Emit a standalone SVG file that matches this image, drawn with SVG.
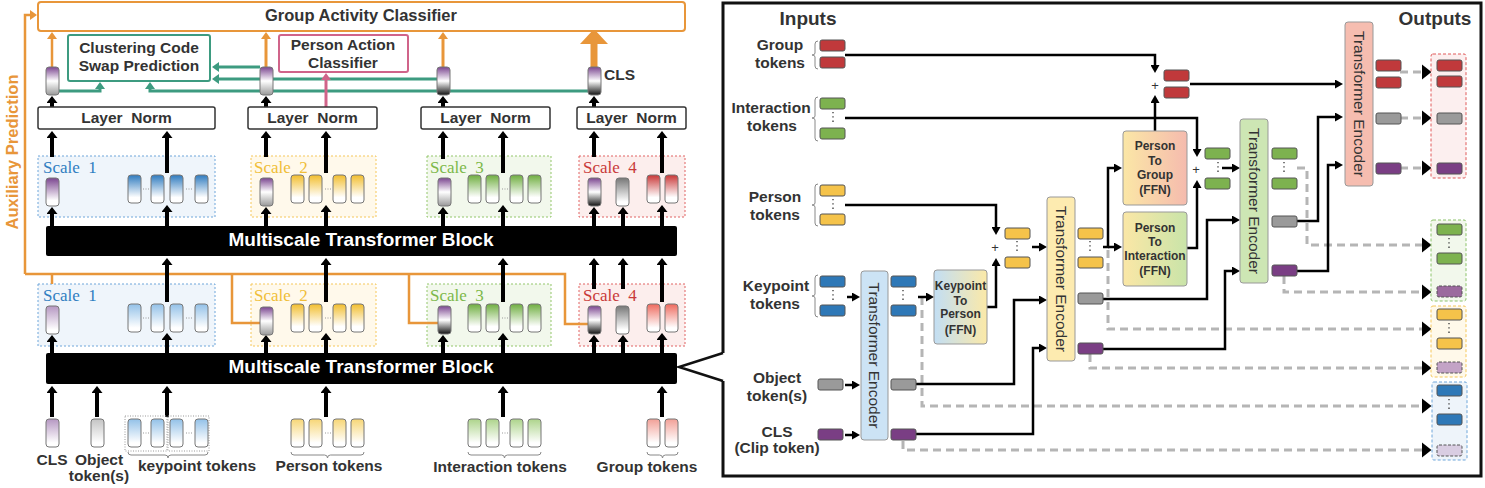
<svg xmlns="http://www.w3.org/2000/svg" width="1485" height="488" viewBox="0 0 1485 488">
<style>
.t{font-family:"Liberation Sans",Arial,sans-serif;fill:#333;font-weight:bold}
.c{text-anchor:middle}
.l{font-size:15.5px}
.sc{font-family:"Liberation Serif",serif;font-size:17px}
.tok{stroke:#777;stroke-width:1}
.st{stroke:#555;stroke-width:1}
.ka{stroke:#000;stroke-width:4;fill:none;marker-end:url(#ak)}
.ra{stroke:#000;stroke-width:2.5;fill:none;marker-end:url(#ar)}
.dl{stroke:#B5B5B5;stroke-width:3;stroke-dasharray:8 5;fill:none;marker-end:url(#ad)}
.oa{stroke:#E8963A;stroke-width:2.5;fill:none}
.ga{stroke:#3D9B80;stroke-width:3;fill:none;marker-end:url(#ag)}
.te{stroke:#999;stroke-width:1}
.tet{font-family:"Liberation Sans",Arial,sans-serif;font-size:15.5px;fill:#333;text-anchor:middle;dominant-baseline:central}
.ff{font-family:"Liberation Sans",Arial,sans-serif;font-size:12px;font-weight:bold;fill:#333;text-anchor:middle}
.vd{stroke:#444;stroke-width:1.4;stroke-dasharray:1.3 3}
.hd{stroke:#999;stroke-width:1;stroke-dasharray:1 1.5}
.br{stroke:#888;stroke-width:1;fill:none}
.pl{font-family:"Liberation Sans",Arial,sans-serif;font-size:13px;fill:#333;text-anchor:middle}
</style>
<defs>
<marker id="ak" viewBox="0 0 7 11" refX="1" refY="5.5" markerWidth="7" markerHeight="11" markerUnits="userSpaceOnUse" orient="auto"><path d="M0,0 L7,5.5 L0,11 z" fill="#000"/></marker>
<marker id="ar" viewBox="0 0 8 9" refX="1" refY="4.5" markerWidth="8" markerHeight="9" markerUnits="userSpaceOnUse" orient="auto"><path d="M0,0 L8,4.5 L0,9 z" fill="#000"/></marker>
<marker id="ad" viewBox="0 0 10 16" refX="0.5" refY="8" markerWidth="10" markerHeight="16" markerUnits="userSpaceOnUse" orient="auto"><path d="M0,0 L10,8 L0,16 z" fill="#000"/></marker>
<marker id="ao" viewBox="0 0 7 10" refX="1" refY="5" markerWidth="7" markerHeight="10" markerUnits="userSpaceOnUse" orient="auto"><path d="M0,0 L7,5 L0,10 z" fill="#E8963A"/></marker>
<marker id="ag" viewBox="0 0 7 10" refX="1" refY="5" markerWidth="7" markerHeight="10" markerUnits="userSpaceOnUse" orient="auto"><path d="M0,0 L7,5 L0,10 z" fill="#3D9B80"/></marker>
<marker id="ap" viewBox="0 0 7 10" refX="1" refY="5" markerWidth="7" markerHeight="10" markerUnits="userSpaceOnUse" orient="auto"><path d="M0,0 L7,5 L0,10 z" fill="#D0648A"/></marker>
<linearGradient id="gB" x1="0" y1="0" x2="0" y2="1"><stop offset="0" stop-color="#2F7BBF"/><stop offset="0.8" stop-color="#fff"/></linearGradient>
<linearGradient id="gY" x1="0" y1="0" x2="0" y2="1"><stop offset="0" stop-color="#F2BE2E"/><stop offset="0.8" stop-color="#fff"/></linearGradient>
<linearGradient id="gG" x1="0" y1="0" x2="0" y2="1"><stop offset="0" stop-color="#6FAE40"/><stop offset="0.8" stop-color="#fff"/></linearGradient>
<linearGradient id="gR" x1="0" y1="0" x2="0" y2="1"><stop offset="0" stop-color="#C93838"/><stop offset="0.8" stop-color="#fff"/></linearGradient>
<linearGradient id="gRs" x1="0" y1="0" x2="0" y2="1"><stop offset="0" stop-color="#EE6A5E"/><stop offset="0.85" stop-color="#fff"/></linearGradient>
<linearGradient id="gP" x1="0" y1="0" x2="0" y2="1"><stop offset="0" stop-color="#7B4690"/><stop offset="0.8" stop-color="#fff"/></linearGradient>
<linearGradient id="gPg" x1="0" y1="0" x2="0" y2="1"><stop offset="0" stop-color="#7B4690"/><stop offset="0.5" stop-color="#fff"/><stop offset="1" stop-color="#999"/></linearGradient>
<linearGradient id="gPk" x1="0" y1="0" x2="0" y2="1"><stop offset="0" stop-color="#7B4690"/><stop offset="0.5" stop-color="#fff"/><stop offset="1" stop-color="#111"/></linearGradient>
<linearGradient id="gGr" x1="0" y1="0" x2="0" y2="1"><stop offset="0" stop-color="#777"/><stop offset="0.85" stop-color="#fff"/></linearGradient>
<linearGradient id="gBl" x1="0" y1="0" x2="0" y2="1"><stop offset="0" stop-color="#93C1E8"/><stop offset="0.85" stop-color="#fff"/></linearGradient>
<linearGradient id="gYl" x1="0" y1="0" x2="0" y2="1"><stop offset="0" stop-color="#F7D676"/><stop offset="0.85" stop-color="#fff"/></linearGradient>
<linearGradient id="gGl" x1="0" y1="0" x2="0" y2="1"><stop offset="0" stop-color="#ADD48B"/><stop offset="0.85" stop-color="#fff"/></linearGradient>
<linearGradient id="gRl" x1="0" y1="0" x2="0" y2="1"><stop offset="0" stop-color="#F2A097"/><stop offset="0.85" stop-color="#fff"/></linearGradient>
<linearGradient id="gPl" x1="0" y1="0" x2="0" y2="1"><stop offset="0" stop-color="#B597C2"/><stop offset="0.85" stop-color="#fff"/></linearGradient>
<linearGradient id="gGrl" x1="0" y1="0" x2="0" y2="1"><stop offset="0" stop-color="#C4C4C4"/><stop offset="0.85" stop-color="#fff"/></linearGradient>
<linearGradient id="hBY" x1="0" y1="0" x2="1" y2="0"><stop offset="0" stop-color="#C2DEF4"/><stop offset="1" stop-color="#FBE9A8"/></linearGradient>
<linearGradient id="hYR" x1="0" y1="0" x2="1" y2="0"><stop offset="0" stop-color="#FBE7A6"/><stop offset="1" stop-color="#F5BBAE"/></linearGradient>
<linearGradient id="hYG" x1="0" y1="0" x2="1" y2="0"><stop offset="0" stop-color="#FBE7A6"/><stop offset="1" stop-color="#C9E4A9"/></linearGradient>
</defs>
<rect width="1485" height="488" fill="#fff"/>

<!-- scale boxes (backgrounds) -->
<g id="scale-boxes">
<rect x="38" y="156" width="177" height="61" fill="#EFF5FB" stroke="#6EA6DA" stroke-dasharray="2 2"/>
<rect x="251" y="156" width="125" height="61" fill="#FFF9EB" stroke="#F5C75A" stroke-dasharray="2 2"/>
<rect x="427" y="156" width="124" height="61" fill="#F2F8EC" stroke="#93C66A" stroke-dasharray="2 2"/>
<rect x="579" y="156" width="106" height="61" fill="#FCEEED" stroke="#E06262" stroke-dasharray="2 2"/>
<rect x="38" y="284" width="177" height="62" fill="#EFF5FB" stroke="#6EA6DA" stroke-dasharray="2 2"/>
<rect x="251" y="284" width="125" height="62" fill="#FFF9EB" stroke="#F5C75A" stroke-dasharray="2 2"/>
<rect x="427" y="284" width="124" height="62" fill="#F2F8EC" stroke="#93C66A" stroke-dasharray="2 2"/>
<rect x="579" y="284" width="106" height="62" fill="#FCEEED" stroke="#E06262" stroke-dasharray="2 2"/>
<text x="43" y="173" class="sc" fill="#2F7EC1">Scale&#160; 1</text>
<text x="254" y="173" class="sc" fill="#F0BE38">Scale&#160; 2</text>
<text x="430" y="173" class="sc" fill="#7DB84A">Scale&#160; 3</text>
<text x="583" y="173" class="sc" fill="#C93A3A">Scale&#160; 4</text>
<text x="43" y="301" class="sc" fill="#2F7EC1">Scale&#160; 1</text>
<text x="254" y="301" class="sc" fill="#F0BE38">Scale&#160; 2</text>
<text x="430" y="301" class="sc" fill="#7DB84A">Scale&#160; 3</text>
<text x="583" y="301" class="sc" fill="#C93A3A">Scale&#160; 4</text>
</g>

<g id="connectors">
<!-- orange auxiliary -->
<path class="oa" d="M25,274 V15 H31" marker-end="url(#ao)"/>
<path class="oa" d="M25,274 H565 V324 H588"/>
<path class="oa" d="M52,274 V284"/>
<path class="oa" d="M232,274 V323 H260"/>
<path class="oa" d="M409,274 V323 H438"/>
<path class="oa" d="M52,67 V38" marker-end="url(#ao)" stroke="#E8963A" stroke-width="3" fill="none"/>
<path d="M266,67 V38" marker-end="url(#ao)" stroke="#E8963A" stroke-width="3" fill="none"/>
<path d="M443,67 V38" marker-end="url(#ao)" stroke="#E8963A" stroke-width="3" fill="none"/>
<path d="M594,67 V43" stroke="#E8963A" stroke-width="7" fill="none"/>
<path d="M580,44 L608,44 L594,29 z" fill="#E8963A"/>
<!-- green -->
<path class="ga" d="M59,91 H100 V88"/>
<path class="ga" d="M260,67 H218"/>
<path class="ga" d="M437,79 H218"/>
<path class="ga" d="M588,91 H150 V88"/>
<!-- pink -->
<path d="M326,107 V79" stroke="#D0648A" stroke-width="3" fill="none" marker-end="url(#ap)"/>
<!-- black arrows left -->
<path class="ka" d="M52,107 V102"/><path class="ka" d="M266,107 V102"/><path class="ka" d="M443,107 V102"/><path class="ka" d="M594,107 V102"/>
<path class="ka" d="M52,157 V137"/><path class="ka" d="M167,173 V137"/>
<path class="ka" d="M266,157 V137"/><path class="ka" d="M326,173 V137"/>
<path class="ka" d="M443,159 V137"/><path class="ka" d="M503,173 V137"/>
<path class="ka" d="M594,157 V137"/><path class="ka" d="M662,173 V137"/>
<path class="ka" d="M52,226 V213"/><path class="ka" d="M167,226 V211"/><path class="ka" d="M266,226 V213"/><path class="ka" d="M326,226 V211"/><path class="ka" d="M443,226 V213"/><path class="ka" d="M503,226 V211"/><path class="ka" d="M594,226 V213"/><path class="ka" d="M623,226 V213"/><path class="ka" d="M662,226 V211"/>
<path class="ka" d="M167,302 V264"/><path class="ka" d="M326,302 V264"/><path class="ka" d="M503,302 V264"/><path class="ka" d="M594,289 V264"/><path class="ka" d="M623,289 V264"/><path class="ka" d="M662,302 V264"/>
<path class="ka" d="M52,353 V341"/><path class="ka" d="M167,353 V339"/><path class="ka" d="M266,353 V341"/><path class="ka" d="M326,353 V339"/><path class="ka" d="M443,353 V341"/><path class="ka" d="M503,353 V339"/><path class="ka" d="M594,353 V341"/><path class="ka" d="M623,353 V341"/><path class="ka" d="M662,353 V339"/>
<path class="ka" d="M52,417 V392"/><path class="ka" d="M97,417 V392"/><path class="ka" d="M167,417 V392"/><path class="ka" d="M326,417 V392"/><path class="ka" d="M503,417 V392"/><path class="ka" d="M662,417 V392"/>
<!-- callout -->
<path d="M723,353 L679,367 L723,381" stroke="#111" stroke-width="2.5" fill="none"/>
<!-- right dashed -->
<path class="dl" d="M1400,72 H1422"/>
<path class="dl" d="M1400,118 H1422"/>
<path class="dl" d="M1400,168 H1422"/>
<path class="dl" d="M1297,168 H1307 V245 H1422"/>
<path class="dl" d="M1284,276 V292 H1422"/>
<path class="dl" d="M1108,250 V329 H1422"/>
<path class="dl" d="M1090,354 V368 H1422"/>
<path class="dl" d="M922,297 V406 H1422"/>
<path class="dl" d="M903,441 V450 H1422"/>
<!-- right solid -->
<path class="ra" d="M845,55 H1155 V66"/>
<path class="ra" d="M1155,131 V102"/>
<path class="ra" d="M1190,84 H1336"/>
<path class="ra" d="M845,118 H1197 V150"/>
<path class="ra" d="M1187,248 H1197 V187"/>
<path class="ra" d="M1222,168 H1233"/>
<path class="ra" d="M845,205 H996 V228"/>
<path class="ra" d="M987,307 H996 V265"/>
<path class="ra" d="M1032,247 H1040"/>
<path class="ra" d="M847,297 H853"/>
<path class="ra" d="M845,385 H853"/>
<path class="ra" d="M845,435 H853"/>
<path class="ra" d="M918,297 H927"/>
<path class="ra" d="M916,384 H1014 V300 H1040"/>
<path class="ra" d="M916,434 H1033 V348 H1040"/>
<path class="ra" d="M1103,247 H1108 V168 H1115"/>
<path class="ra" d="M1108,247 H1115"/>
<path class="ra" d="M1103,299 H1207 V220 H1233"/>
<path class="ra" d="M1103,349 H1225 V271 H1233"/>
<path class="ra" d="M1297,221 H1318 V117 H1336"/>
<path class="ra" d="M1297,271 H1328 V165 H1336"/>
</g>

<g id="group-activity-classifier">
<rect x="38" y="2" width="647" height="29" rx="3" fill="#fff" stroke="#E8963A" stroke-width="2"/>
<text x="361" y="21" class="t c" font-size="16.5">Group Activity Classifier</text>
</g>
<g id="auxiliary-label">
<text transform="translate(18,152) rotate(-90)" class="t c" font-size="16.5" fill="#E8963A" style="fill:#E8963A">Auxiliary Prediction</text>
</g>
<g id="clustering-code-swap">
<rect x="68" y="35" width="142" height="46" rx="2" fill="#fff" stroke="#3D9B80" stroke-width="2"/>
<text x="139" y="53" class="t c l">Clustering Code</text>
<text x="139" y="71" class="t c l">Swap Prediction</text>
</g>
<g id="person-action-classifier">
<rect x="279" y="35" width="129" height="37" rx="2" fill="#fff" stroke="#D0648A" stroke-width="2"/>
<text x="343" y="50" class="t c l">Person Action</text>
<text x="343" y="68" class="t c l">Classifier</text>
</g>
<g id="top-tokens">
<rect x="46" y="67" width="13" height="28" rx="3" fill="url(#gPg)" class="tok"/>
<rect x="260" y="67" width="13" height="28" rx="3" fill="url(#gPg)" class="tok"/>
<rect x="437" y="67" width="13" height="28" rx="3" fill="url(#gPk)" class="tok"/>
<rect x="588" y="67" width="13" height="28" rx="3" fill="url(#gPk)" class="tok"/>
<text x="604" y="80" class="t l">CLS</text>
</g>
<g id="layer-norms">
<rect x="38" y="107" width="177" height="22" rx="2" fill="#fff" stroke="#333" stroke-width="1.5"/>
<rect x="248" y="107" width="129" height="22" rx="2" fill="#fff" stroke="#333" stroke-width="1.5"/>
<rect x="421" y="107" width="129" height="22" rx="2" fill="#fff" stroke="#333" stroke-width="1.5"/>
<rect x="577" y="107" width="109" height="22" rx="2" fill="#fff" stroke="#333" stroke-width="1.5"/>
<text x="126.5" y="123" class="t c l">Layer&#160; Norm</text>
<text x="312.5" y="123" class="t c l">Layer&#160; Norm</text>
<text x="485.5" y="123" class="t c l">Layer&#160; Norm</text>
<text x="631.5" y="123" class="t c l">Layer&#160; Norm</text>
</g>
<g id="upper-scale-tokens">
<rect x="46" y="178" width="13" height="28" rx="3" fill="url(#gP)" class="tok"/>
<rect x="128" y="175" width="13" height="28" rx="3" fill="url(#gB)" class="tok"/>
<rect x="151" y="175" width="13" height="28" rx="3" fill="url(#gB)" class="tok"/>
<rect x="170" y="175" width="13" height="28" rx="3" fill="url(#gB)" class="tok"/>
<rect x="195" y="175" width="13" height="28" rx="3" fill="url(#gB)" class="tok"/>
<line x1="143" y1="189" x2="149" y2="189" class="hd"/><line x1="186" y1="189" x2="192" y2="189" class="hd"/>
<rect x="260" y="178" width="13" height="28" rx="3" fill="url(#gPg)" class="tok"/>
<rect x="291" y="175" width="13" height="28" rx="3" fill="url(#gY)" class="tok"/>
<rect x="309" y="175" width="13" height="28" rx="3" fill="url(#gY)" class="tok"/>
<rect x="333" y="175" width="13" height="28" rx="3" fill="url(#gY)" class="tok"/>
<rect x="351" y="175" width="13" height="28" rx="3" fill="url(#gY)" class="tok"/>
<line x1="325" y1="189" x2="331" y2="189" class="hd"/>
<rect x="438" y="178" width="13" height="28" rx="3" fill="url(#gPg)" class="tok"/>
<rect x="468" y="175" width="13" height="28" rx="3" fill="url(#gG)" class="tok"/>
<rect x="486" y="175" width="13" height="28" rx="3" fill="url(#gG)" class="tok"/>
<rect x="510" y="175" width="13" height="28" rx="3" fill="url(#gG)" class="tok"/>
<rect x="528" y="175" width="13" height="28" rx="3" fill="url(#gG)" class="tok"/>
<line x1="502" y1="189" x2="508" y2="189" class="hd"/>
<rect x="588" y="178" width="13" height="28" rx="3" fill="url(#gPk)" class="tok"/>
<rect x="616" y="178" width="13" height="28" rx="3" fill="url(#gGr)" class="tok"/>
<rect x="647" y="175" width="13" height="28" rx="3" fill="url(#gR)" class="tok"/>
<rect x="665" y="175" width="13" height="28" rx="3" fill="url(#gR)" class="tok"/>
</g>
<g id="mtb-upper">
<rect x="46" y="226" width="631" height="30" rx="2" fill="#000"/>
<text x="361" y="246" class="t c" font-size="19" style="fill:#fff">Multiscale Transformer Block</text>
</g>
<g id="lower-scale-tokens">
<rect x="46" y="306" width="13" height="28" rx="3" fill="url(#gPl)" class="tok"/>
<rect x="128" y="304" width="13" height="28" rx="3" fill="url(#gBl)" class="tok"/>
<rect x="151" y="304" width="13" height="28" rx="3" fill="url(#gBl)" class="tok"/>
<rect x="170" y="304" width="13" height="28" rx="3" fill="url(#gBl)" class="tok"/>
<rect x="195" y="304" width="13" height="28" rx="3" fill="url(#gBl)" class="tok"/>
<line x1="143" y1="318" x2="149" y2="318" class="hd"/><line x1="186" y1="318" x2="192" y2="318" class="hd"/>
<rect x="260" y="307" width="13" height="28" rx="3" fill="url(#gPg)" class="tok"/>
<rect x="291" y="304" width="13" height="28" rx="3" fill="url(#gY)" class="tok"/>
<rect x="309" y="304" width="13" height="28" rx="3" fill="url(#gY)" class="tok"/>
<rect x="333" y="304" width="13" height="28" rx="3" fill="url(#gY)" class="tok"/>
<rect x="351" y="304" width="13" height="28" rx="3" fill="url(#gY)" class="tok"/>
<line x1="325" y1="318" x2="331" y2="318" class="hd"/>
<rect x="438" y="306" width="13" height="28" rx="3" fill="url(#gPk)" class="tok"/>
<rect x="468" y="304" width="13" height="28" rx="3" fill="url(#gG)" class="tok"/>
<rect x="486" y="304" width="13" height="28" rx="3" fill="url(#gG)" class="tok"/>
<rect x="510" y="304" width="13" height="28" rx="3" fill="url(#gG)" class="tok"/>
<rect x="528" y="304" width="13" height="28" rx="3" fill="url(#gG)" class="tok"/>
<line x1="502" y1="318" x2="508" y2="318" class="hd"/>
<rect x="588" y="306" width="13" height="28" rx="3" fill="url(#gPk)" class="tok"/>
<rect x="616" y="306" width="13" height="28" rx="3" fill="url(#gGr)" class="tok"/>
<rect x="647" y="304" width="13" height="28" rx="3" fill="url(#gRs)" class="tok"/>
<rect x="665" y="304" width="13" height="28" rx="3" fill="url(#gRs)" class="tok"/>
</g>
<g id="mtb-lower">
<rect x="46" y="353" width="631" height="31" rx="2" fill="#000"/>
<text x="361" y="373" class="t c" font-size="19" style="fill:#fff">Multiscale Transformer Block</text>
</g>
<g id="input-tokens">
<rect x="46" y="419" width="13" height="28" rx="3" fill="url(#gPl)" class="tok"/>
<rect x="91" y="419" width="13" height="28" rx="3" fill="url(#gGrl)" class="tok"/>
<rect x="125" y="416" width="42" height="35" fill="none" stroke="#999" stroke-dasharray="1 1.5"/>
<rect x="168" y="416" width="41" height="35" fill="none" stroke="#999" stroke-dasharray="1 1.5"/>
<rect x="128" y="419" width="13" height="28" rx="3" fill="url(#gBl)" class="tok"/>
<rect x="151" y="419" width="13" height="28" rx="3" fill="url(#gBl)" class="tok"/>
<rect x="170" y="419" width="13" height="28" rx="3" fill="url(#gBl)" class="tok"/>
<rect x="195" y="419" width="13" height="28" rx="3" fill="url(#gBl)" class="tok"/>
<line x1="143" y1="433" x2="149" y2="433" class="hd"/><line x1="186" y1="433" x2="192" y2="433" class="hd"/>
<rect x="291" y="419" width="13" height="28" rx="3" fill="url(#gYl)" class="tok"/>
<rect x="309" y="419" width="13" height="28" rx="3" fill="url(#gYl)" class="tok"/>
<rect x="333" y="419" width="13" height="28" rx="3" fill="url(#gYl)" class="tok"/>
<rect x="351" y="419" width="13" height="28" rx="3" fill="url(#gYl)" class="tok"/>
<line x1="325" y1="433" x2="331" y2="433" class="hd"/>
<rect x="468" y="419" width="13" height="28" rx="3" fill="url(#gGl)" class="tok"/>
<rect x="486" y="419" width="13" height="28" rx="3" fill="url(#gGl)" class="tok"/>
<rect x="510" y="419" width="13" height="28" rx="3" fill="url(#gGl)" class="tok"/>
<rect x="528" y="419" width="13" height="28" rx="3" fill="url(#gGl)" class="tok"/>
<line x1="502" y1="433" x2="508" y2="433" class="hd"/>
<rect x="647" y="419" width="13" height="28" rx="3" fill="url(#gRl)" class="tok"/>
<rect x="665" y="419" width="13" height="28" rx="3" fill="url(#gRl)" class="tok"/>
<path class="br" d="M128,452 q0,3 3,3 H165 q3,0 3,3 q0,-3 3,-3 H205 q3,0 3,-3"/>
<path class="br" d="M291,452 q0,3 3,3 H324.5 q3,0 3,3 q0,-3 3,-3 H361 q3,0 3,-3"/>
<path class="br" d="M468,452 q0,3 3,3 H501.5 q3,0 3,3 q0,-3 3,-3 H538 q3,0 3,-3"/>
<path class="br" d="M647,452 q0,3 3,3 H659.5 q3,0 3,3 q0,-3 3,-3 H675 q3,0 3,-3"/>
<text x="52" y="465" class="t c l">CLS</text>
<text x="99" y="465" class="t c l">Object</text>
<text x="99" y="481" class="t c l">token(s)</text>
<text x="197" y="471" class="t c l">keypoint tokens</text>
<text x="329" y="471" class="t c l">Person tokens</text>
<text x="500" y="472" class="t c l">Interaction tokens</text>
<text x="647" y="472" class="t c l">Group tokens</text>
</g>

<!-- RIGHT PANEL -->
<g id="detail-panel">
<path d="M723,353 V3 H1481 V476 H723 V381" stroke="#111" stroke-width="3" fill="none"/>
<text x="808" y="25" class="t c" font-size="19">Inputs</text>
<text x="1435" y="25" class="t c" font-size="19">Outputs</text>
</g>
<g id="input-labels">
<text x="780" y="50" class="t c l">Group</text><text x="780" y="68" class="t c l">tokens</text>
<text x="771" y="113" class="t c l">Interaction</text><text x="772" y="131" class="t c l">tokens</text>
<text x="775" y="202" class="t c l">Person</text><text x="775" y="220" class="t c l">tokens</text>
<text x="776" y="291" class="t c l">Keypoint</text><text x="775" y="309" class="t c l">tokens</text>
<text x="777" y="383" class="t c l">Object</text><text x="777" y="401" class="t c l">token(s)</text>
<text x="777" y="437" class="t c l">CLS</text><text x="777" y="453" class="t c l">(Clip token)</text>
<path class="br" d="M818,41 q-3,0 -3,3 V53 q0,2 -3,2 q3,0 3,2 V66 q0,3 3,3"/>
<path class="br" d="M818,97 q-3,0 -3,3 V116 q0,2 -3,2 q3,0 3,2 V138 q0,3 3,3"/>
<path class="br" d="M818,184 q-3,0 -3,3 V203 q0,2 -3,2 q3,0 3,2 V223 q0,3 3,3"/>
<path class="br" d="M818,275 q-3,0 -3,3 V294 q0,2 -3,2 q3,0 3,2 V314 q0,3 3,3"/>
</g>
<g id="input-small-tokens">
<rect x="820" y="40" width="25" height="11" rx="2" fill="#C0393B" class="st"/>
<rect x="820" y="57" width="25" height="11" rx="2" fill="#C0393B" class="st"/>
<rect x="820" y="98" width="25" height="11" rx="2" fill="#7DB24F" class="st"/>
<rect x="820" y="128" width="25" height="11" rx="2" fill="#7DB24F" class="st"/>
<line x1="833" y1="112" x2="833" y2="124" class="vd"/>
<rect x="820" y="185" width="25" height="11" rx="2" fill="#F5C34A" class="st"/>
<rect x="820" y="214" width="25" height="11" rx="2" fill="#F5C34A" class="st"/>
<line x1="833" y1="199" x2="833" y2="211" class="vd"/>
<rect x="820" y="276" width="25" height="11" rx="2" fill="#2E78B7" class="st"/>
<rect x="820" y="305" width="25" height="11" rx="2" fill="#2E78B7" class="st"/>
<line x1="833" y1="290" x2="833" y2="302" class="vd"/>
<rect x="818" y="379" width="25" height="11" rx="2" fill="#9A9A9A" class="st"/>
<rect x="818" y="429" width="25" height="11" rx="2" fill="#7A3E84" class="st"/>
</g>
<g id="transformer-encoder-0">
<rect x="861" y="271" width="27" height="169" rx="3" fill="#CCE3F5" class="te"/>
<text transform="translate(874.5,355.5) rotate(90)" class="tet">Transformer Encoder</text>
</g>
<g id="te0-outputs">
<rect x="891" y="276" width="25" height="11" rx="2" fill="#2E78B7" class="st"/>
<rect x="891" y="305" width="25" height="11" rx="2" fill="#2E78B7" class="st"/>
<line x1="903" y1="290" x2="903" y2="302" class="vd"/>
<rect x="891" y="379" width="25" height="11" rx="2" fill="#9A9A9A" class="st"/>
<rect x="891" y="429" width="25" height="11" rx="2" fill="#7A3E84" class="st"/>
</g>
<g id="keypoint-to-person">
<rect x="934" y="270" width="53" height="74" rx="3" fill="url(#hBY)" class="te"/>
<text x="960.5" y="290" class="ff" font-size="11.5">Keypoint</text>
<text x="960.5" y="305" class="ff" font-size="11.5">To</text>
<text x="960.5" y="318" class="ff" font-size="11.5">Person</text>
<text x="960.5" y="334" class="ff" font-size="11.5">(FFN)</text>
</g>
<g id="person-sum">
<text x="995" y="252" class="pl">+</text>
<rect x="1005" y="228" width="25" height="11" rx="2" fill="#F5C34A" class="st"/>
<rect x="1005" y="257" width="25" height="11" rx="2" fill="#F5C34A" class="st"/>
<line x1="1017" y1="241" x2="1017" y2="253" class="vd"/>
</g>
<g id="transformer-encoder-1">
<rect x="1047" y="197" width="28" height="164" rx="3" fill="#FDEBB0" class="te"/>
<text transform="translate(1061,279) rotate(90)" class="tet">Transformer Encoder</text>
</g>
<g id="te1-outputs">
<rect x="1078" y="228" width="25" height="11" rx="2" fill="#F5C34A" class="st"/>
<rect x="1078" y="257" width="25" height="11" rx="2" fill="#F5C34A" class="st"/>
<line x1="1090" y1="241" x2="1090" y2="253" class="vd"/>
<rect x="1078" y="293" width="25" height="11" rx="2" fill="#9A9A9A" class="st"/>
<rect x="1078" y="343" width="25" height="11" rx="2" fill="#7A3E84" class="st"/>
</g>
<g id="person-to-group">
<rect x="1123" y="131" width="64" height="74" rx="3" fill="url(#hYR)" class="te"/>
<text x="1155" y="150" class="ff">Person</text>
<text x="1155" y="165" class="ff">To</text>
<text x="1155" y="179" class="ff">Group</text>
<text x="1155" y="194" class="ff">(FFN)</text>
</g>
<g id="person-to-interaction">
<rect x="1123" y="212" width="64" height="74" rx="3" fill="url(#hYG)" class="te"/>
<text x="1155" y="232" class="ff">Person</text>
<text x="1155" y="246" class="ff">To</text>
<text x="1155" y="260" class="ff">Interaction</text>
<text x="1155" y="275" class="ff">(FFN)</text>
</g>
<g id="group-sum">
<text x="1155" y="90" class="pl">+</text>
<rect x="1164" y="70" width="25" height="11" rx="2" fill="#C0393B" class="st"/>
<rect x="1164" y="87" width="25" height="11" rx="2" fill="#C0393B" class="st"/>
</g>
<g id="interaction-sum">
<text x="1196" y="174" class="pl">+</text>
<rect x="1205" y="148" width="25" height="11" rx="2" fill="#7DB24F" class="st"/>
<rect x="1205" y="178" width="25" height="11" rx="2" fill="#7DB24F" class="st"/>
<line x1="1218" y1="162" x2="1218" y2="174" class="vd"/>
</g>
<g id="transformer-encoder-2">
<rect x="1240" y="119" width="28" height="164" rx="3" fill="#CDE6B4" class="te"/>
<text transform="translate(1254,201) rotate(90)" class="tet">Transformer Encoder</text>
</g>
<g id="te2-outputs">
<rect x="1272" y="148" width="25" height="11" rx="2" fill="#7DB24F" class="st"/>
<rect x="1272" y="178" width="25" height="11" rx="2" fill="#7DB24F" class="st"/>
<line x1="1284" y1="162" x2="1284" y2="174" class="vd"/>
<rect x="1272" y="216" width="25" height="11" rx="2" fill="#9A9A9A" class="st"/>
<rect x="1272" y="265" width="25" height="11" rx="2" fill="#7A3E84" class="st"/>
</g>
<g id="transformer-encoder-3">
<rect x="1345" y="22" width="28" height="164" rx="3" fill="#F6BDB0" class="te"/>
<text transform="translate(1359,104) rotate(90)" class="tet">Transformer Encoder</text>
</g>
<g id="te3-outputs">
<rect x="1376" y="60" width="25" height="11" rx="2" fill="#C0393B" class="st"/>
<rect x="1376" y="77" width="25" height="11" rx="2" fill="#C0393B" class="st"/>
<rect x="1376" y="113" width="25" height="11" rx="2" fill="#9A9A9A" class="st"/>
<rect x="1376" y="163" width="25" height="11" rx="2" fill="#7A3E84" class="st"/>
</g>
<g id="output-group">
<rect x="1431" y="54" width="35" height="124" rx="2" fill="#FCEFEF" stroke="#E05A5A" stroke-dasharray="3 2"/>
<rect x="1437" y="60" width="25" height="11" rx="2" fill="#C0393B" class="st"/>
<rect x="1437" y="76" width="25" height="11" rx="2" fill="#C0393B" class="st"/>
<rect x="1437" y="113" width="25" height="11" rx="2" fill="#9A9A9A" class="st"/>
<rect x="1437" y="163" width="25" height="11" rx="2" fill="#7A3E84" class="st"/>
</g>
<g id="output-interaction">
<rect x="1431" y="220" width="35" height="81" rx="2" fill="#F2F8EC" stroke="#8CC36A" stroke-dasharray="3 2"/>
<rect x="1437" y="224" width="25" height="11" rx="2" fill="#7DB24F" class="st"/>
<rect x="1437" y="253" width="25" height="11" rx="2" fill="#7DB24F" class="st"/>
<line x1="1449" y1="238" x2="1449" y2="250" class="vd"/>
<rect x="1437" y="286" width="25" height="11" rx="2" fill="#9B6A9E" class="st" stroke-dasharray="3 1.5"/>
</g>
<g id="output-person">
<rect x="1431" y="306" width="35" height="71" rx="2" fill="#FFF9EA" stroke="#F5C75A" stroke-dasharray="3 2"/>
<rect x="1437" y="309" width="25" height="11" rx="2" fill="#F5C34A" class="st"/>
<rect x="1437" y="338" width="25" height="11" rx="2" fill="#F5C34A" class="st"/>
<line x1="1449" y1="323" x2="1449" y2="335" class="vd"/>
<rect x="1437" y="362" width="25" height="11" rx="2" fill="#C3A3C6" class="st" stroke-dasharray="3 1.5"/>
</g>
<g id="output-keypoint">
<rect x="1432" y="382" width="35" height="78" rx="2" fill="#EEF4FA" stroke="#6EA6DA" stroke-dasharray="3 2"/>
<rect x="1437" y="385" width="25" height="11" rx="2" fill="#2E78B7" class="st"/>
<rect x="1437" y="414" width="25" height="11" rx="2" fill="#2E78B7" class="st"/>
<line x1="1449" y1="399" x2="1449" y2="411" class="vd"/>
<rect x="1437" y="445" width="25" height="11" rx="2" fill="#D9CDE2" class="st" stroke-dasharray="3 1.5"/>
</g>
</svg>
